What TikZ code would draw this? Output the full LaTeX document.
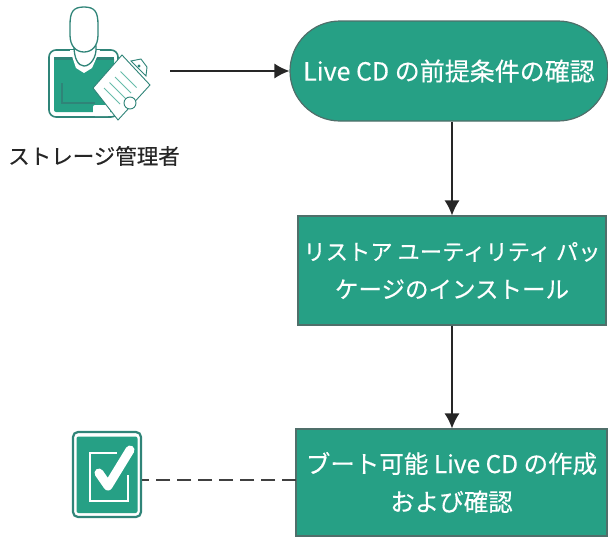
\documentclass[tikz,border=0pt]{standalone}
\usepackage{fontspec}
\setmainfont{Noto Sans CJK JP}[FakeBold=0.3]
\usetikzlibrary{arrows.meta,shapes.misc}
\definecolor{teal1}{HTML}{26A085}
\definecolor{teal2}{HTML}{2F8478}
\definecolor{edge1}{HTML}{4F6F6A}
\tikzset{
 x=1pt,y=-1pt,
 flow/.style={fill=teal1,draw=edge1,line width=1.2pt,text=white,align=center,inner sep=0pt},
 conn/.style={line width=1.3pt,black!85,-{Latex[length=15pt,width=15pt]}},
 iconline/.style={draw=teal2,line width=1.3pt},
}
\begin{document}
\begin{tikzpicture}
\useasboundingbox (0,0) rectangle (608,536);
\node[flow,rounded rectangle,minimum width=318pt,minimum height=100pt,font=\fontsize{25}{38}\selectfont] (pre) at (449,71) {\raisebox{2pt}{Live CD の前提条件の確認}};
\node[flow,minimum width=308pt,minimum height=109pt,font=\fontsize{23}{38}\selectfont] (inst) at (452,270.5) {{\fontsize{22.3}{38}\selectfont リストア ユーティリティ パッ}\\{\fontsize{23.5}{38}\selectfont ケージのインストール}};
\node[flow,minimum width=311pt,minimum height=107pt,font=\fontsize{24.5}{38}\selectfont] (boot) at (451.5,482.5) {ブート可能 Live CD の作成\\および確認};
% person icon
\draw[iconline,rounded corners=7pt,line width=1.6pt] (49,50) rectangle (118,117);
\fill[teal1,rounded corners=2pt] (54,57) rectangle (114,112);
\fill[teal2] (54,57) rectangle (114,60);
\draw[teal2,line width=1.2pt] (62,83) -- (62,103) -- (95,103);
\fill[white] (70,50) -- (100,50) -- (92,68) -- (84,73) -- (76,68) -- cycle;
\draw[iconline,fill=white] (74,46) .. controls (74,58) and (78,66) .. (84,66) .. controls (90,66) and (97,58) .. (96,46) -- cycle;
\draw[iconline,fill=white] (70,25) .. controls (70,12) and (73,7) .. (84,7) .. controls (95,7) and (98,12) .. (98,25) -- (98,35) .. controls (98,46) and (92,52) .. (84,52) .. controls (76,52) and (70,46) .. (70,35) -- cycle;
\fill[white,rounded corners=2pt] (93,105) rectangle (110,116);
\draw[iconline,line width=.9pt,fill=white] (122,55) -- (150,85) -- (118,120) -- (93,88) -- cycle;
\draw[iconline,line width=.9pt,fill=white] (131,61) -- (141,59) -- (147,67) -- (146,76) -- cycle;
\fill[teal2] (139,66) circle (1.6pt);
\foreach \i in {0,1,2,3}{
 \draw[teal1!70,line width=1pt] (104+\i*5.5,88-\i*5.5) -- (120+\i*5.5,104-\i*5.5);
}
\draw[iconline,line width=.9pt,fill=white] (130,103) circle (6pt);
% labels
\node[font=\fontsize{21.5}{24}\selectfont,text=black!85,inner sep=0pt] (admin) at (94,156) {ストレージ管理者};
% check icon
\node[draw=teal2,line width=2.2pt,fill=white,rounded corners=5pt,minimum width=68pt,minimum height=85pt,inner sep=0pt] (chk) at (107,474.5) {};
\fill[teal1,rounded corners=2pt] (76.5,436.5) rectangle (137.5,513);
\draw[white,line width=2.2pt] (128,475) -- (128,501) -- (90,501) -- (90,453) -- (117,453);
\draw[white,line width=9pt,line cap=round,line join=round] (99,473) -- (108,486) -- (130,450);
% connectors
\coordinate (start) at (170,71);
\coordinate (dashr) at (296,480);
\draw[conn] (start) -- (pre.west);
\draw[conn] (inst.north |- pre.south) -- (inst.north);
\draw[conn] (inst.south) -- (inst.south |- boot.north);
\draw[black!75,line width=1.4pt,dash pattern=on 14pt off 7pt] (dashr) -- (dashr -| chk.east);
\end{tikzpicture}
\end{document}
